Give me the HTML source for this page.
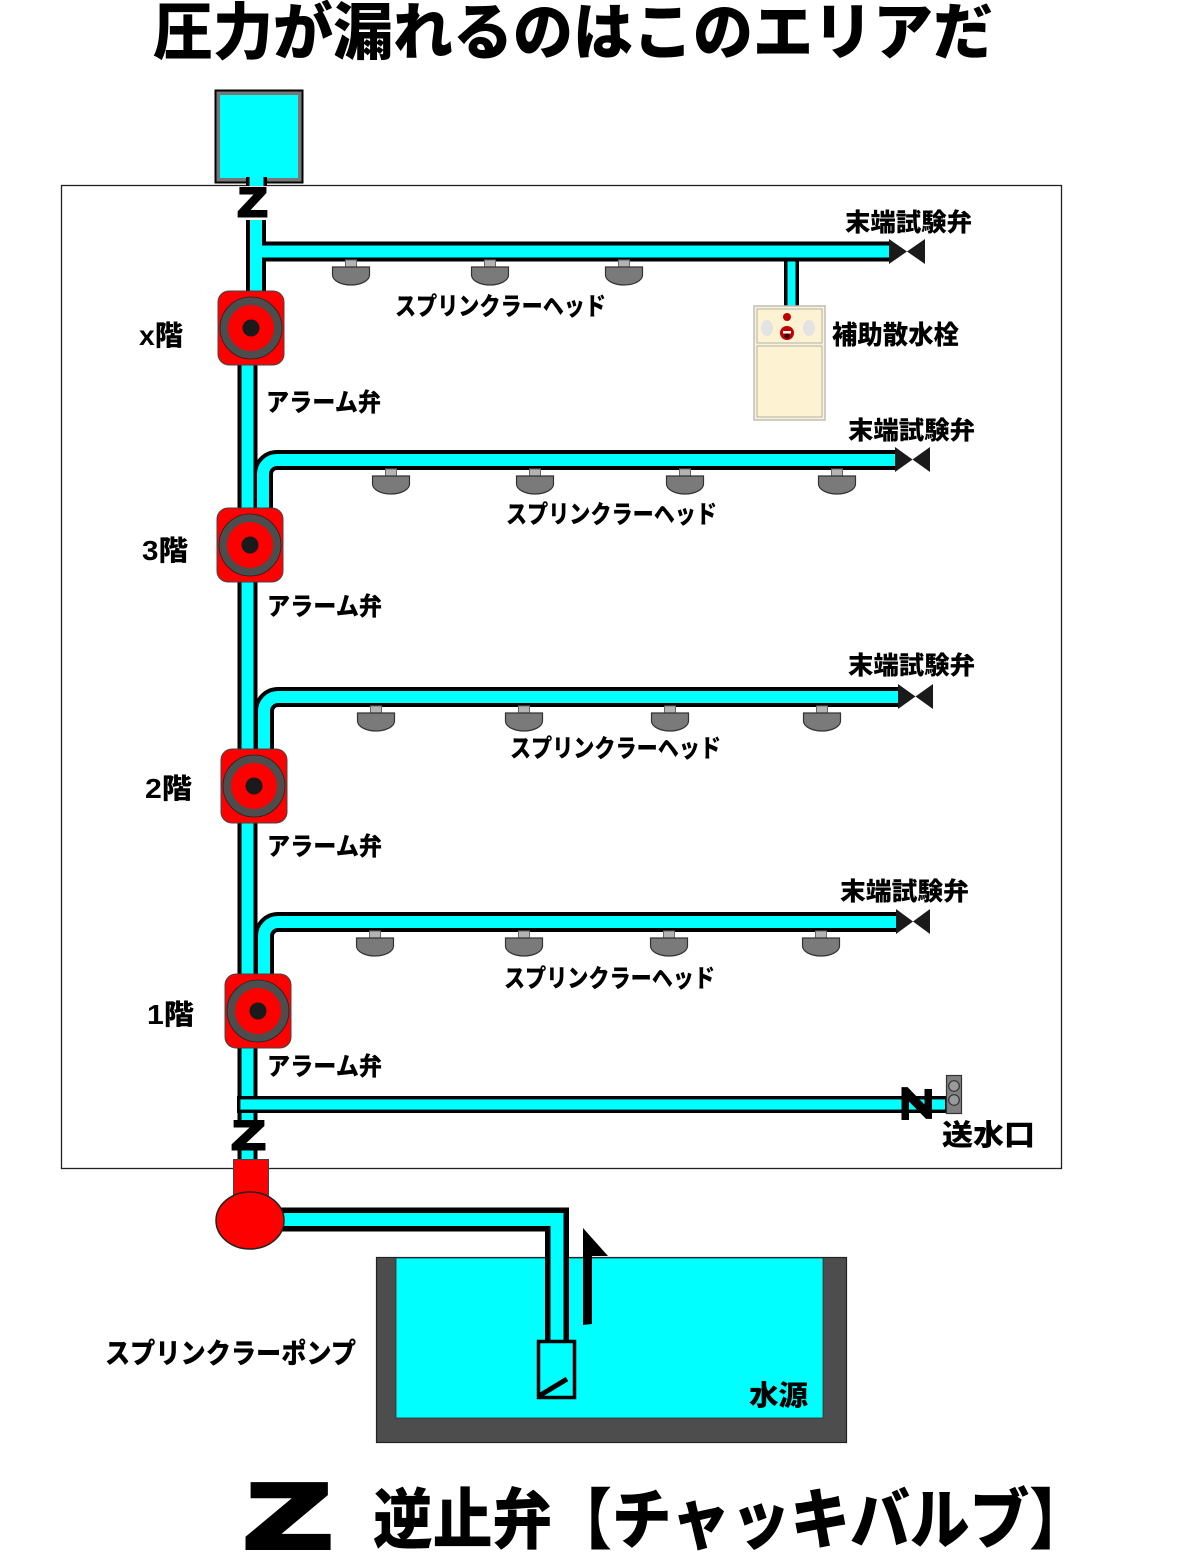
<!DOCTYPE html>
<html>
<head>
<meta charset="utf-8">
<style>
html,body{margin:0;padding:0;background:#fff;}
svg{display:block;}
text{font-family:"Liberation Sans","Noto Sans CJK JP",sans-serif;font-weight:900;fill:#000;}
</style>
</head>
<body>
<svg width="1177" height="1567" viewBox="0 0 1177 1567" xmlns="http://www.w3.org/2000/svg">
<!-- Title -->
<text x="153" y="54" font-size="62" textLength="840" lengthAdjust="spacingAndGlyphs">圧力が漏れるのはこのエリアだ</text>

<!-- Frame -->
<rect x="61.5" y="185.5" width="1000" height="983" fill="none" stroke="#222" stroke-width="1.3"/>

<!-- Top tank -->
<rect x="215.5" y="90.5" width="87" height="92" fill="#777" stroke="#000" stroke-width="2"/>
<rect x="220" y="95" width="78" height="83" fill="#00ffff"/>
<rect x="246" y="177" width="21" height="9" fill="#000"/>
<rect x="249.5" y="176" width="14" height="10" fill="#00ffff"/>

<!-- Hydrant pipe (under branch) -->
<path d="M791.5 256 V308" stroke="#000" stroke-width="15" fill="none"/>
<path d="M791.5 256 V308" stroke="#00ffff" stroke-width="8" fill="none"/>

<!-- Pipe blacks -->
<g fill="none" stroke="#000" stroke-width="20" stroke-linecap="butt">
  <path d="M256 220 V293"/>
  <path d="M256 251.5 H890"/>
  <path d="M247.5 365 V1121"/>
  <path d="M263 510 V474 A14 14 0 0 1 277 460 H896"/>
  <path d="M264 750 V711 A14 14 0 0 1 278 697 H899"/>
  <path d="M264 976 V936 A14 14 0 0 1 278 922 H897"/>
  <path d="M247.5 1148 V1161"/>
</g>
<g fill="none" stroke="#00ffff" stroke-width="12" stroke-linecap="butt">
  <path d="M256 220 V293"/>
  <path d="M256 251.5 H890"/>
  <path d="M247.5 365 V1121"/>
  <path d="M263 510 V474 A14 14 0 0 1 277 460 H896"/>
  <path d="M264 750 V711 A14 14 0 0 1 278 697 H899"/>
  <path d="M264 976 V936 A14 14 0 0 1 278 922 H897"/>
  <path d="M247.5 1148 V1161"/>
</g>

<!-- Z valves -->
<text x="238" y="216" font-family="Liberation Sans" font-weight="bold" font-size="40" textLength="29" lengthAdjust="spacingAndGlyphs" stroke="#000" stroke-width="3" stroke-linejoin="miter">Z</text>
<text x="232" y="1149" font-family="Liberation Sans" font-weight="bold" font-size="40" textLength="33" lengthAdjust="spacingAndGlyphs" stroke="#000" stroke-width="3" stroke-linejoin="miter">Z</text>

<!-- Sprinkler heads -->
<defs>
<g id="hd">
  <rect x="-5.5" y="0" width="11" height="7" fill="#b3b3b3" stroke="#666" stroke-width="1"/>
  <path d="M-18.5 7 H18.5 V15 A18.5 10 0 0 1 -18.5 15 Z" fill="#7a7a7a" stroke="#333" stroke-width="1.2"/>
</g>
</defs>
<use href="#hd" x="351" y="260"/>
<use href="#hd" x="490" y="260"/>
<use href="#hd" x="624" y="260"/>
<use href="#hd" x="391" y="469"/>
<use href="#hd" x="535" y="469"/>
<use href="#hd" x="685" y="469"/>
<use href="#hd" x="837" y="469"/>
<use href="#hd" x="376" y="706"/>
<use href="#hd" x="524" y="706"/>
<use href="#hd" x="670" y="706"/>
<use href="#hd" x="822" y="706"/>
<use href="#hd" x="375" y="931"/>
<use href="#hd" x="524" y="931"/>
<use href="#hd" x="669" y="931"/>
<use href="#hd" x="821" y="931"/>

<!-- End test valves (bowties) -->
<g fill="#1a1a1a">
  <path d="M889 239 L889 264 L907 251.5 Z M925 239 L925 264 L907 251.5 Z"/>
  <path d="M895 447 L895 472 L912.5 459.5 Z M930 447 L930 472 L912.5 459.5 Z"/>
  <path d="M898 684 L898 709 L915.5 696.5 Z M933 684 L933 709 L915.5 696.5 Z"/>
  <path d="M896 909 L896 934 L913 921.5 Z M930 909 L930 934 L913 921.5 Z"/>
</g>

<!-- Alarm valves -->
<defs>
<g id="av">
  <rect x="-33" y="-37" width="66" height="74" rx="11" fill="#ff0000" stroke="#444" stroke-width="1"/>
  <circle cx="0" cy="0" r="27" fill="#ff0000" stroke="#4d4d4d" stroke-width="8"/>
  <circle cx="0" cy="0" r="31" fill="none" stroke="#222" stroke-width="0.8"/>
  <circle cx="0" cy="0" r="8.5" fill="#1a1a1a"/>
</g>
</defs>
<use href="#av" x="251" y="328"/>
<use href="#av" x="250" y="545"/>
<use href="#av" x="254" y="786"/>
<use href="#av" x="258" y="1011"/>

<!-- Auxiliary hydrant -->
<rect x="754" y="306" width="71" height="114" fill="#fdf3d3" stroke="#bdbdbd" stroke-width="1.5"/>
<rect x="757" y="309" width="65" height="34" fill="#fdf3d3" stroke="#b0b0b0" stroke-width="1"/>
<rect x="757" y="346" width="65" height="71" fill="#fdf3d3" stroke="#b0b0b0" stroke-width="1"/>
<ellipse cx="767" cy="328" rx="6" ry="8" fill="#e3e3e3"/>
<ellipse cx="809" cy="328" rx="6" ry="8" fill="#e3e3e3"/>
<circle cx="787" cy="317" r="4" fill="#c00000"/>
<circle cx="787" cy="333" r="7" fill="#c00000"/>
<rect x="783" y="331" width="8" height="2.5" fill="#fff"/>
<circle cx="787" cy="336" r="2.5" fill="#300"/>

<!-- 送水口 pipe -->
<rect x="238.7" y="1097.7" width="708" height="13.6" fill="#00ffff" stroke="#000" stroke-width="3.4"/>
<g transform="translate(917,1103.5) rotate(90)">
  <text x="-16" y="14" font-family="Liberation Sans" font-weight="bold" font-size="40" textLength="32" lengthAdjust="spacingAndGlyphs" stroke="#000" stroke-width="3" stroke-linejoin="miter">Z</text>
</g>
<rect x="946.5" y="1075.5" width="15" height="38" fill="#808080" stroke="#333" stroke-width="1.2"/>
<circle cx="954" cy="1086" r="5.3" fill="#9a9a9a" stroke="#333" stroke-width="1.2"/>
<circle cx="954" cy="1100" r="5.3" fill="#9a9a9a" stroke="#333" stroke-width="1.2"/>

<!-- Pump -->
<rect x="233.5" y="1159.5" width="35" height="36" fill="#ff0000" stroke="#444" stroke-width="1"/>

<!-- Water tank -->
<rect x="376.5" y="1257.5" width="470" height="185" fill="#4d4d4d" stroke="#222" stroke-width="1.2"/>
<rect x="396" y="1258" width="427" height="160" fill="#00ffff" stroke="#333" stroke-width="0.8"/>

<!-- Suction pipe -->
<path d="M280 1219.5 H557 V1342" fill="none" stroke="#000" stroke-width="24" stroke-linejoin="miter"/>
<path d="M280 1219.5 H557 V1342" fill="none" stroke="#00ffff" stroke-width="13" stroke-linejoin="miter"/>
<ellipse cx="250" cy="1220.5" rx="34" ry="28.5" fill="#ff0000" stroke="#222" stroke-width="1.5"/>

<!-- Foot valve -->
<rect x="538.5" y="1341.5" width="36" height="56" fill="#00ffff" stroke="#000" stroke-width="3.5"/>
<path d="M539 1396 L567 1379" stroke="#000" stroke-width="5"/>

<!-- Arrow -->
<path d="M583 1228 L608 1256 L592 1256 L592 1324 L583 1325 Z" fill="#000"/>

<!-- Labels -->
<g font-size="25">
  <text x="845" y="231" textLength="127" lengthAdjust="spacingAndGlyphs">末端試験弁</text>
  <text x="848" y="439" textLength="127" lengthAdjust="spacingAndGlyphs">末端試験弁</text>
  <text x="848" y="674" textLength="127" lengthAdjust="spacingAndGlyphs">末端試験弁</text>
  <text x="840" y="900" textLength="129" lengthAdjust="spacingAndGlyphs">末端試験弁</text>

  <text x="395" y="315" textLength="211" lengthAdjust="spacingAndGlyphs">スプリンクラーヘッド</text>
  <text x="506" y="523" textLength="211" lengthAdjust="spacingAndGlyphs">スプリンクラーヘッド</text>
  <text x="510" y="757" textLength="211" lengthAdjust="spacingAndGlyphs">スプリンクラーヘッド</text>
  <text x="504" y="987" textLength="211" lengthAdjust="spacingAndGlyphs">スプリンクラーヘッド</text>

  <text x="266" y="411" textLength="115" lengthAdjust="spacingAndGlyphs">アラーム弁</text>
  <text x="267" y="615" textLength="115" lengthAdjust="spacingAndGlyphs">アラーム弁</text>
  <text x="267" y="855" textLength="115" lengthAdjust="spacingAndGlyphs">アラーム弁</text>
  <text x="267" y="1075" textLength="115" lengthAdjust="spacingAndGlyphs">アラーム弁</text>

  <text x="832" y="344" font-size="26" textLength="127" lengthAdjust="spacingAndGlyphs">補助散水栓</text>
</g>
<g font-size="28">
  <text x="139" y="345" textLength="44" lengthAdjust="spacingAndGlyphs">x階</text>
  <text x="142" y="560" textLength="46" lengthAdjust="spacingAndGlyphs">3階</text>
  <text x="145" y="798" textLength="47" lengthAdjust="spacingAndGlyphs">2階</text>
  <text x="147" y="1024" textLength="47" lengthAdjust="spacingAndGlyphs">1階</text>
</g>
<text x="942" y="1145" font-size="29" textLength="93" lengthAdjust="spacingAndGlyphs">送水口</text>
<text x="749" y="1405" font-size="28" textLength="59" lengthAdjust="spacingAndGlyphs">水源</text>
<text x="105" y="1363" font-size="28" textLength="251" lengthAdjust="spacingAndGlyphs">スプリンクラーポンプ</text>

<!-- Legend -->
<text x="246" y="1547" font-family="Liberation Sans" font-weight="bold" font-size="90" textLength="84" lengthAdjust="spacingAndGlyphs" stroke="#000" stroke-width="6" stroke-linejoin="miter">Z</text>
<text x="373" y="1543" font-size="66" textLength="716" lengthAdjust="spacingAndGlyphs">逆止弁【チャッキバルブ】</text>
</svg>
</body>
</html>
